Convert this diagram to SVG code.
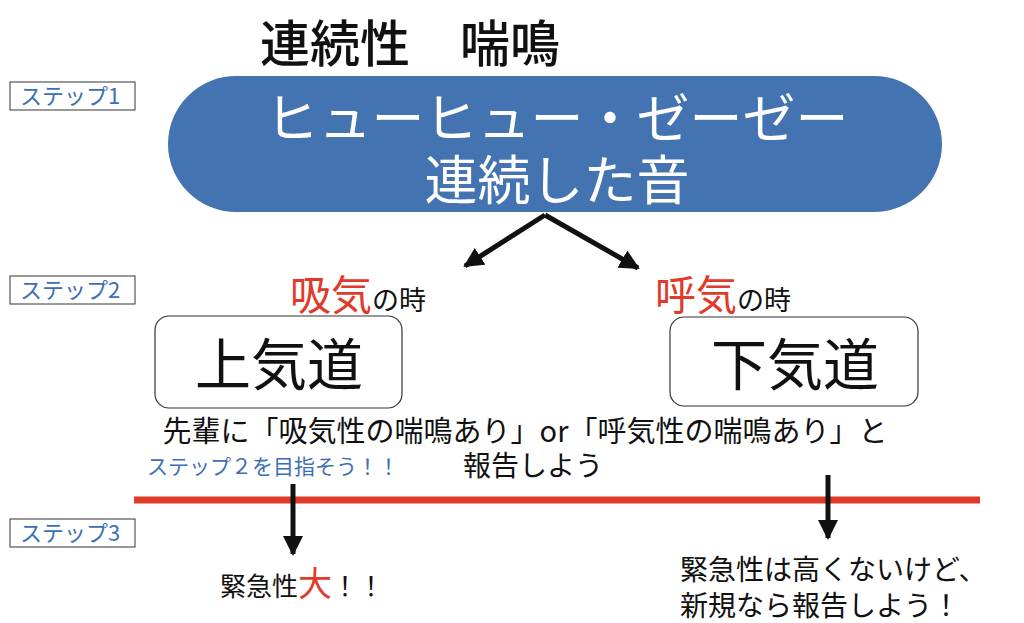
<svg xmlns="http://www.w3.org/2000/svg" width="1024" height="623" viewBox="0 0 1024 623">
<defs>
<style>
text{font-family:"Noto Sans CJK JP","Noto Sans CJK SC",sans-serif;}
.step{fill:#fff;stroke:#555;stroke-width:1.2;}
.steptxt{fill:#3b6fb6;font-size:22px;}
.box{fill:#fff;stroke:#333;stroke-width:1.2;}
.big{font-size:56px;fill:#111;text-anchor:middle;}
.red{fill:#e03a2a;}
.conn{stroke:#111;stroke-width:5;fill:none;}
</style>
<marker id="ah" viewBox="0 0 10 10" refX="9" refY="5" markerWidth="4" markerHeight="4" orient="auto" markerUnits="strokeWidth">
<path d="M0,0 L10,5 L0,10 z" fill="#111"/>
</marker>
</defs>
<rect width="1024" height="623" fill="#fff"/>
<text x="410" y="62" font-size="50" font-weight="500" text-anchor="middle" fill="#111">連続性　喘鳴</text>

<g id="step1"><rect class="step" x="10" y="82" width="125" height="28"/><text class="steptxt" x="20" y="104">ステップ1</text></g>
<g id="step2"><rect class="step" x="10" y="276" width="125" height="28"/><text class="steptxt" x="20" y="298">ステップ2</text></g>
<g id="step3"><rect class="step" x="10" y="519" width="125" height="28"/><text class="steptxt" x="20" y="541">ステップ3</text></g>

<g id="sound">
<rect x="168" y="76" width="774" height="136" rx="68" fill="#4373b0"/>
<text x="557" y="138" font-size="53" fill="#fff" text-anchor="middle">ヒューヒュー・ゼーゼー</text>
<text x="557" y="200" font-size="53" fill="#fff" text-anchor="middle">連続した音</text>
</g>

<g id="connectors">
<line class="conn" x1="545" y1="215" x2="465" y2="266" marker-end="url(#ah)"/>
<line class="conn" x1="545" y1="215" x2="638" y2="268" marker-end="url(#ah)"/>
<line x1="134" y1="500" x2="980" y2="500" stroke="#e03a2a" stroke-width="7"/>
<line class="conn" x1="293" y1="484" x2="293" y2="554" marker-end="url(#ah)"/>
<line class="conn" x1="828" y1="475" x2="828" y2="538" marker-end="url(#ah)"/>
</g>

<g id="inhale-label"><text x="290" y="310" font-size="41"><tspan class="red">吸気</tspan><tspan font-size="27" fill="#111">の時</tspan></text></g>
<g id="exhale-label"><text x="655" y="310" font-size="41"><tspan class="red">呼気</tspan><tspan font-size="27" fill="#111">の時</tspan></text></g>

<g id="upper"><rect class="box" x="155" y="316" width="247" height="92" rx="14"/><text class="big" x="279" y="385">上気道</text></g>
<g id="lower"><rect class="box" x="670" y="317" width="248" height="89" rx="14"/><text class="big" x="795" y="385">下気道</text></g>

<g id="report">
<text x="525" y="442" font-size="29" fill="#111" text-anchor="middle">先輩に「吸気性の喘鳴あり」or「呼気性の喘鳴あり」と</text>
<text x="533" y="476" font-size="28" fill="#111" text-anchor="middle">報告しよう</text>
</g>
<g id="goal"><text x="147" y="474" font-size="21" fill="#3b6fb6">ステップ２を目指そう！！</text></g>

<g id="urgent"><text x="220" y="596" font-size="26" fill="#111">緊急性<tspan class="red" font-size="34">大</tspan>！！</text></g>
<g id="notUrgent">
<text x="680" y="580" font-size="28" fill="#111">緊急性は高くないけど、</text>
<text x="680" y="616" font-size="28" fill="#111">新規なら報告しよう！</text>
</g>
</svg>
